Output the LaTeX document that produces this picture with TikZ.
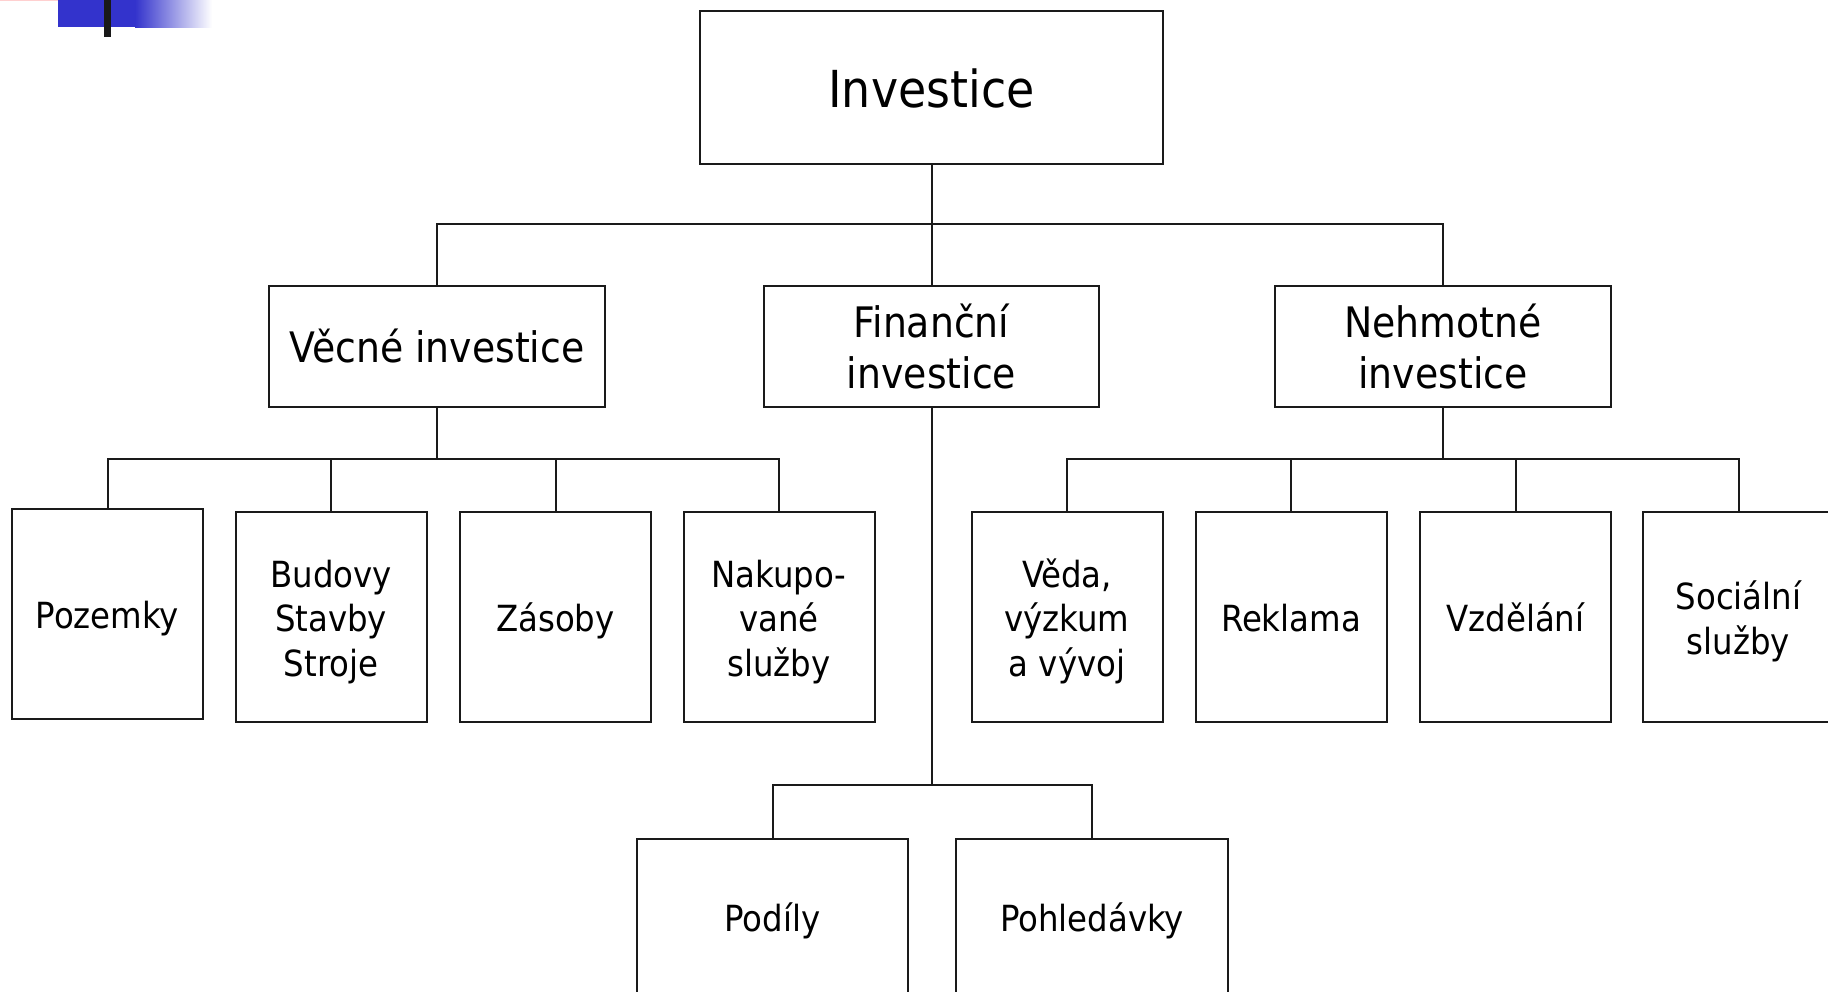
\documentclass[tikz,border=0pt]{standalone}
\usepackage{fontspec}
\setmainfont{DejaVu Sans Condensed}
\definecolor{decoblue}{HTML}{3333CC}
\definecolor{decopink}{HTML}{FFD0D0}
\definecolor{linecol}{HTML}{1A1A1A}
\newcommand{\leaftext}[1]{\raisebox{-6pt}[\height][\depth]{\begin{tabular}{@{}c@{}}#1\end{tabular}}}
\tikzset{
  box/.style={draw=linecol, line width=2pt, fill=white, inner sep=0pt, align=center, text=black},
  conn/.style={draw=linecol, line width=2pt},
  lvlone/.style={font=\fontsize{51}{60}\selectfont},
  lvltwo/.style={font=\fontsize{42}{51}\selectfont},
  lvlthree/.style={font=\fontsize{36}{44.5}\selectfont},
  leafbox/.style={box, lvlthree, minimum width=191pt, minimum height=210pt},
}
\begin{document}
\begin{tikzpicture}[x=1pt,y=-1pt]
\useasboundingbox (0,0) rectangle (1828,992);
\clip (0,0) rectangle (1828,992);
% decoration top left
\fill[decopink] (0,0) rectangle (89,1.5);
\fill[decoblue] (58,0) rectangle (136,27);
\shade[left color=decoblue, right color=white] (135,0) rectangle (212,28);
\fill[black!90] (104,0) rectangle (111,37);

% nodes
\node[box, lvlone, minimum width=463pt, minimum height=153pt] (inv) at (931.5,88) {Investice};
\node[box, lvltwo, minimum width=336pt, minimum height=121pt] (vec) at (437,346.5) {Věcné investice};
\node[box, lvltwo, minimum width=335pt, minimum height=121pt] (fin) at (931.5,346.5) {Finanční\\investice};
\node[box, lvltwo, minimum width=336pt, minimum height=121pt] (neh) at (1443,346.5) {Nehmotné\\investice};

\node[leafbox] (poz) at (107.5,614) {\leaftext{Pozemky}};
\node[leafbox] (bud) at (331,617) {\leaftext{Budovy\\Stavby\\Stroje}};
\node[leafbox] (zas) at (555.5,617) {\leaftext{Zásoby}};
\node[leafbox] (nak) at (779,617) {\leaftext{Nakupo-\\vané\\služby}};
\node[leafbox] (ved) at (1067,617) {\leaftext{Věda,\\výzkum\\a vývoj}};
\node[leafbox] (rek) at (1291,617) {\leaftext{Reklama}};
\node[leafbox] (vzd) at (1515.5,617) {\leaftext{Vzdělání}};
\node[leafbox] (soc) at (1738.5,617) {\leaftext{Sociální\\služby}};

\node[box, lvlthree, anchor=north, minimum width=271pt, text height=92pt, text depth=150pt] (pod) at (772.5,838) {Podíly};
\node[box, lvlthree, anchor=north, minimum width=272pt, text height=92pt, text depth=150pt] (poh) at (1092,838) {Pohledávky};

% junction points
\coordinate (b1) at (931.5,224);
\coordinate (b2) at (437,459);
\coordinate (b3) at (1443,459);
\coordinate (b4) at (931.5,785);

% connectors
\draw[conn] (inv.south) -- (b1);
\draw[conn] (vec.north) |- (b1) -| (neh.north);
\draw[conn] (b1) -- (fin.north);

\draw[conn] (vec.south) -- (b2);
\draw[conn] (poz.north) |- (b2) -| (nak.north);
\draw[conn] (bud.north) -- (bud.north |- b2);
\draw[conn] (zas.north) -- (zas.north |- b2);

\draw[conn] (neh.south) -- (b3);
\draw[conn] (ved.north) |- (b3) -| (soc.north);
\draw[conn] (rek.north) -- (rek.north |- b3);
\draw[conn] (vzd.north) -- (vzd.north |- b3);

\draw[conn] (fin.south) -- (b4);
\draw[conn] (pod.north) |- (b4) -| (poh.north);
\end{tikzpicture}
\end{document}
